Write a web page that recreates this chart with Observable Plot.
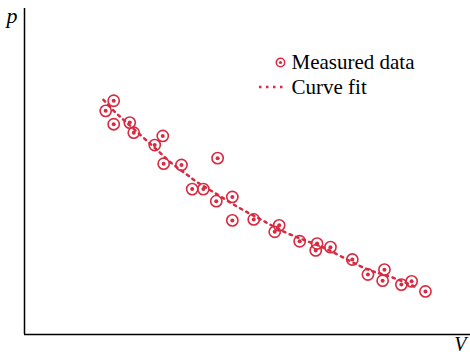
<!DOCTYPE html>
<html>
<head>
<meta charset="utf-8">
<script src="https://cdn.jsdelivr.net/npm/d3@7"></script>
<script src="https://cdn.jsdelivr.net/npm/@observablehq/plot@0.6"></script>
<style>
  html, body { margin: 0; padding: 0; background: #fff; }
  #chart { width: 470px; height: 357px; }
  #chart svg text { font-family: "Liberation Serif", "Times New Roman", "DejaVu Serif", serif; }
</style>
</head>
<body>
<div id="chart"></div>
<script>
// Measured data (volume V, pressure p), arbitrary units
const measuredV = [1.82, 2.00, 2.00, 2.36, 2.45, 2.92, 3.10, 3.12, 3.52, 3.76, 4.01, 4.33, 4.30, 4.66, 4.66, 5.14, 5.61, 5.71, 6.17, 6.56, 6.53, 6.86, 7.35, 7.70, 8.07, 8.03, 8.45, 8.68, 8.99];
const measuredP = [6.86, 7.17, 6.45, 6.50, 6.19, 5.81, 6.09, 5.24, 5.20, 4.46, 4.46, 5.41, 4.09, 4.22, 3.50, 3.53, 3.15, 3.35, 2.86, 2.79, 2.58, 2.68, 2.30, 1.84, 1.99, 1.65, 1.53, 1.63, 1.32];

// Curve fit
const fitV = [1.77, 2.04, 2.22, 2.67, 3.05, 3.25, 3.66, 3.88, 4.17, 4.84, 5.29, 5.85, 6.35, 6.75, 7.09, 7.53, 7.83, 8.21, 8.83];
const fitP = [7.20, 6.80, 6.59, 6.03, 5.57, 5.29, 4.89, 4.65, 4.43, 3.85, 3.54, 3.11, 2.86, 2.65, 2.40, 2.09, 1.91, 1.79, 1.42];

const legendLabels = ["Measured data", "Curve fit"];
const axisLabels = {x: "V", y: "p"};

const red = "#d82a40";
const measured = measuredV.map((v, i) => ({V: v, p: measuredP[i]}));
const fit = fitV.map((v, i) => ({V: v, p: fitP[i]}));

const chart = Plot.plot({
  width: 470,
  height: 357,
  marginLeft: 24,
  marginRight: 0,
  marginTop: 8,
  marginBottom: 23,
  x: {domain: [0, 10], axis: null},
  y: {domain: [0, 10], axis: null},
  style: {background: "#fff", overflow: "visible"},
  marks: [
    Plot.line(fit, {x: "V", y: "p", curve: "basis", stroke: red, strokeWidth: 2.5, strokeDasharray: "2.5,4.5"}),
    Plot.dot(measured, {x: "V", y: "p", r: 5.6, stroke: red, strokeWidth: 1.6, fill: "none"}),
    Plot.dot(measured, {x: "V", y: "p", r: 2, fill: red, stroke: null}),
    Plot.ruleX([0], {stroke: "#000", strokeWidth: 1.5}),
    Plot.ruleY([0], {stroke: "#000", strokeWidth: 1.5}),
    // axis labels
    Plot.text([axisLabels.y], {frameAnchor: "top-left", dx: -18, dy: -1, text: d => d, fontSize: 22, fontStyle: "italic", fill: "#000", textAnchor: "start"}),
    Plot.text([axisLabels.x], {frameAnchor: "bottom-right", dx: -4, dy: 2, text: d => d, fontSize: 20, fontStyle: "italic", fill: "#000", textAnchor: "end", lineAnchor: "top"}),
    // legend
    Plot.dot([0], {frameAnchor: "top-right", dx: -190, dy: 54, r: 4.2, stroke: red, strokeWidth: 1.5, fill: "none"}),
    Plot.dot([0], {frameAnchor: "top-right", dx: -190, dy: 54, r: 1.6, fill: red}),
    Plot.text([legendLabels[0]], {frameAnchor: "top-right", dx: -179, dy: 54, text: d => d, fontSize: 21, fill: "#000", textAnchor: "start", lineAnchor: "middle"}),
    Plot.text([legendLabels[1]], {frameAnchor: "top-right", dx: -179, dy: 79, text: d => d, fontSize: 21, fill: "#000", textAnchor: "start", lineAnchor: "middle"})
  ]
});

// dotted legend sample next to "Curve fit"
const svg = d3.select(chart);
svg.append("line")
  .attr("x1", 259).attr("x2", 283)
  .attr("y1", 87).attr("y2", 87)
  .attr("stroke", red).attr("stroke-width", 2.5)
  .attr("stroke-dasharray", "2.5,4.5");

document.getElementById("chart").appendChild(chart);
</script>
</body>
</html>
